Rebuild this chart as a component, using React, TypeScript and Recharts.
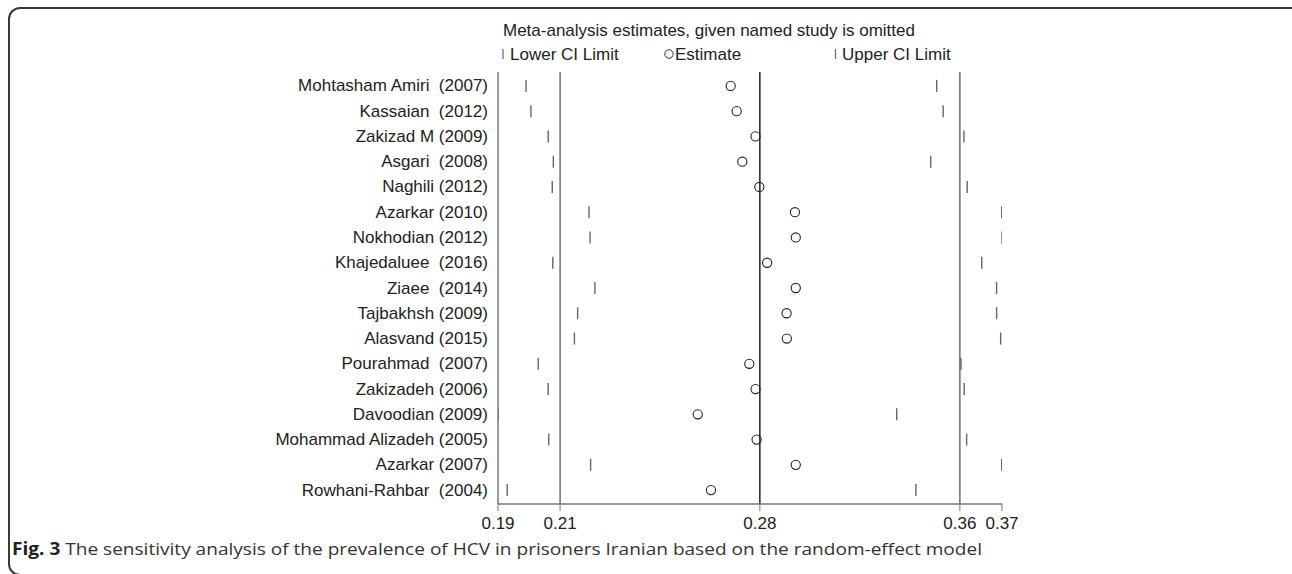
import React from "react";
import {
  ScatterChart,
  Scatter,
  XAxis,
  YAxis,
  ReferenceLine,
} from "recharts";

const studies = [
  "Mohtasham Amiri  (2007)",
  "Kassaian  (2012)",
  "Zakizad M (2009)",
  "Asgari  (2008)",
  "Naghili (2012)",
  "Azarkar (2010)",
  "Nokhodian (2012)",
  "Khajedaluee  (2016)",
  "Ziaee  (2014)",
  "Tajbakhsh (2009)",
  "Alasvand (2015)",
  "Pourahmad  (2007)",
  "Zakizadeh (2006)",
  "Davoodian (2009)",
  "Mohammad Alizadeh (2005)",
  "Azarkar (2007)",
  "Rowhani-Rahbar  (2004)",
];

const lowerCI = [
  0.1964, 0.1982, 0.2046, 0.2065, 0.2061, 0.2197, 0.2201, 0.2063, 0.2219,
  0.2155, 0.2143, 0.2009, 0.2046, 0.186, 0.2048, 0.2203, 0.1894,
];
const estimates = [
  0.2722, 0.2744, 0.2814, 0.2765, 0.2828, 0.296, 0.2963, 0.2857, 0.2963,
  0.2929, 0.293, 0.2791, 0.2814, 0.26, 0.2818, 0.2963, 0.2649,
];
const upperCI = [
  0.3485, 0.3509, 0.3586, 0.3463, 0.3598, 0.3726, 0.3727, 0.3652, 0.3707,
  0.3707, 0.3722, 0.3575, 0.3587, 0.3337, 0.3596, 0.3726, 0.3408,
];

const overallLower = 0.209;
const overallEstimate = 0.283;
const overallUpper = 0.3571;

const xTickValues = [0.186, 0.209, 0.283, 0.3571, 0.3727];
const xTickLabels = ["0.19", "0.21", "0.28", "0.36", "0.37"];

const rows = studies.map((_, i) => i + 1);
const lowerData = rows.map((r, i) => ({ x: lowerCI[i], y: r }));
const estData = rows.map((r, i) => ({ x: estimates[i], y: r }));
const upperData = rows.map((r, i) => ({ x: upperCI[i], y: r }));

const FONT = "'Liberation Sans', Arial, sans-serif";

const BarShape = (props: any) => {
  const { cx, cy } = props;
  return (
    <line x1={cx} x2={cx} y1={cy - 6} y2={cy + 6} stroke="#666" strokeWidth={1.4} />
  );
};

const CircleShape = (props: any) => {
  const { cx, cy } = props;
  return <circle cx={cx} cy={cy} r={4.6} fill="none" stroke="#222" strokeWidth={1.1} />;
};

const StudyTick = (props: any) => {
  const { x, y, payload } = props;
  return (
    <text
      x={x}
      y={y}
      textAnchor="end"
      dominantBaseline="central"
      fontSize={17}
      fontFamily={FONT}
      fill="#222"
      xmlSpace="preserve"
      style={{ whiteSpace: "pre" }}
    >
      {studies[payload.value - 1] ?? ""}
    </text>
  );
};

export default function App() {
  return (
    <div style={{ position: "absolute", left: 0, top: 0, width: 1292, height: 574, background: "#fff", overflow: "hidden" }}>
      <div
        style={{
          position: "absolute",
          left: 8,
          top: 7,
          width: 1300,
          height: 569,
          border: "2px solid #3a3a3a",
          borderRadius: 12,
          boxSizing: "border-box",
        }}
      />
      <div style={{ position: "absolute", left: 0, top: 0 }}>
        <ScatterChart
          width={1292}
          height={574}
          margin={{ top: 72, right: 290, bottom: 40, left: 0 }}
        >
          <XAxis
            type="number"
            dataKey="x"
            domain={[xTickValues[0], xTickValues[xTickValues.length - 1]]}
            ticks={xTickValues}
            interval={0}
            allowDataOverflow
            height={30}
            tickSize={7}
            tickMargin={6}
            stroke="#777"
            tickLine={{ stroke: "#777" }}
            axisLine={{ stroke: "#777", strokeWidth: 1.5 }}
            tick={{ fill: "#222", fontSize: 17, fontFamily: FONT }}
            tickFormatter={(v: number) => xTickLabels[xTickValues.indexOf(v)] ?? ""}
          />
          <YAxis
            type="number"
            dataKey="y"
            domain={[0.45, 17.55]}
            reversed
            ticks={rows}
            interval={0}
            allowDataOverflow
            width={498}
            tickLine={false}
            tickSize={0}
            tickMargin={10}
            axisLine={{ stroke: "#777", strokeWidth: 1.5 }}
            tick={StudyTick}
          />
          <ReferenceLine x={overallLower} stroke="#666" strokeWidth={1.4} />
          <ReferenceLine x={overallEstimate} stroke="#111" strokeWidth={1.4} />
          <ReferenceLine x={overallUpper} stroke="#666" strokeWidth={1.4} />
          <Scatter data={lowerData} shape={BarShape} isAnimationActive={false} />
          <Scatter data={upperData} shape={BarShape} isAnimationActive={false} />
          <Scatter data={estData} shape={CircleShape} isAnimationActive={false} />
        </ScatterChart>
      </div>
      <svg
        width={1292}
        height={574}
        style={{ position: "absolute", left: 0, top: 0, pointerEvents: "none" }}
      >
        <text x={503} y={36} fontSize={17} fontFamily={FONT} fill="#222">
          Meta-analysis estimates, given named study is omitted
        </text>
        <line x1={503} x2={503} y1={49} y2={59} stroke="#666" strokeWidth={1.2} />
        <text x={510} y={60} fontSize={17} fontFamily={FONT} fill="#222">
          Lower CI Limit
        </text>
        <circle cx={669} cy={54} r={4.2} fill="none" stroke="#333" strokeWidth={1} />
        <text x={675} y={60} fontSize={17} fontFamily={FONT} fill="#222">
          Estimate
        </text>
        <line x1={835.5} x2={835.5} y1={49} y2={59} stroke="#666" strokeWidth={1.2} />
        <text x={842} y={60} fontSize={17} fontFamily={FONT} fill="#222">
          Upper CI Limit
        </text>
        <text
          x={12}
          y={555}
          fontSize={17}
          fontFamily="'Open Sans', 'Noto Sans', sans-serif"
          fill="#333"
          textLength={970}
          lengthAdjust="spacingAndGlyphs"
        >
          <tspan fontWeight="bold" fill="#222">Fig. 3</tspan>
          <tspan> The sensitivity analysis of the prevalence of HCV in prisoners Iranian based on the random-effect model</tspan>
        </text>
      </svg>
    </div>
  );
}
